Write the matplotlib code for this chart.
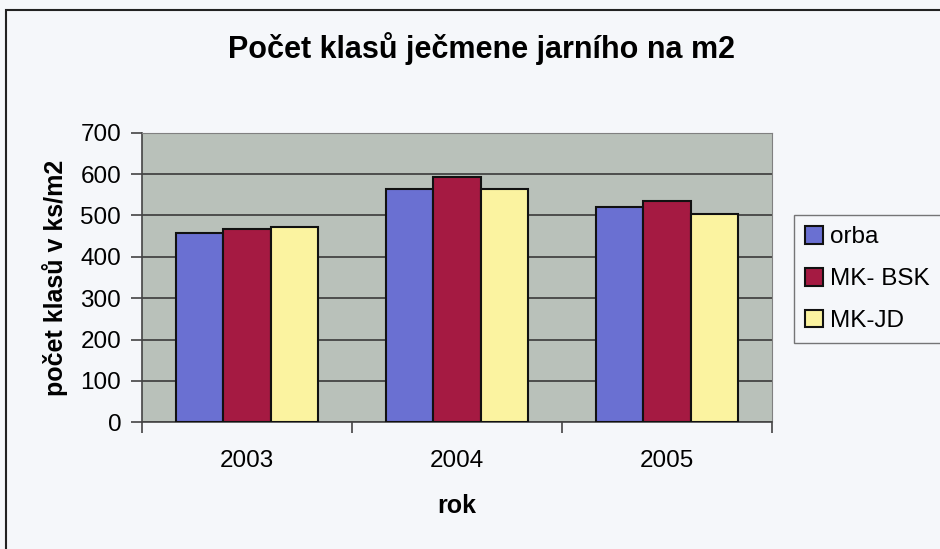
# Počet klasů ječmene jarního na m2 - sloupcový graf
import numpy as np
import matplotlib.pyplot as plt
from matplotlib.patches import Rectangle

# data
roky = ['2003', '2004', '2005']
orba = [457, 564, 520]
mk_bsk = [468, 594, 535]
mk_jd = [472, 564, 504]
serie = ['orba', 'MK- BSK', 'MK-JD']
barvy = ['#6a70d2', '#a51a42', '#fbf3a0']

plt.rcParams['font.family'] = ['Liberation Sans', 'DejaVu Sans']

fig = plt.figure(figsize=(9.4, 5.49), dpi=100, facecolor='#f5f7fa')
ax = fig.add_axes([142 / 940, 1 - 422.3 / 549, 630 / 940, (422.3 - 132.7) / 549])
ax.set_facecolor('#b9c1ba')

# rámeček celého grafu (vpravo a dole oříznutý)
fig.patches.append(Rectangle((6 / 940, -0.2), 1.2, 1 - 10 / 549 + 0.2,
                             transform=fig.transFigure, fill=False,
                             edgecolor='#222222', linewidth=1.5))

x = np.arange(len(roky))
w = 0.224
for i, (vals, name, c) in enumerate(zip([orba, mk_bsk, mk_jd], serie, barvy)):
    ax.bar(x + (i - 1) * w, vals, w, color=c, edgecolor='#111111',
           linewidth=1.5, label=name, zorder=3)

ax.set_xlim(-0.5, 2.5)
ax.set_ylim(0, 700)
ax.set_yticks(range(0, 701, 100))
ax.yaxis.grid(True, color='#3a3a3a', linewidth=1.2, zorder=1)
ax.set_axisbelow(True)

ax.set_xticks(x)
ax.set_xticklabels(roky)
ax.set_xticks([-0.5, 0.5, 1.5, 2.5], minor=True)
ax.tick_params(axis='x', which='major', length=0, pad=20, labelsize=17.5)
ax.tick_params(axis='x', which='minor', length=8, width=1.2, color='#444444')
ax.tick_params(axis='y', length=8, width=1.2, color='#444444', labelsize=17.5, pad=7)

for s in ['top', 'right']:
    ax.spines[s].set_color('#808080')
for s in ['left', 'bottom']:
    ax.spines[s].set_color('#444444')
    ax.spines[s].set_linewidth(1.2)

ax.set_xlabel('rok', fontsize=18, fontweight='bold', labelpad=16)
ax.set_ylabel('počet klasů v ks/m2', fontsize=18, fontweight='bold', labelpad=9)

fig.text(481 / 940, 1 - 49 / 549, 'Počet klasů ječmene jarního na m2',
         ha='center', va='center', fontsize=22, fontweight='bold')

leg = fig.legend(loc='upper left', bbox_to_anchor=(794 / 940, 1 - 215 / 549),
                 fontsize=17.5, frameon=True, fancybox=False,
                 handlelength=0.75, handleheight=0.75, handletextpad=0.3,
                 labelspacing=0.8, borderpad=0.45, borderaxespad=0)
leg.get_frame().set_edgecolor('#555555')
leg.get_frame().set_facecolor('#f5f7fa')
leg.get_frame().set_linewidth(1.0)

plt.savefig('out.png', facecolor=fig.get_facecolor())
plt.close()
